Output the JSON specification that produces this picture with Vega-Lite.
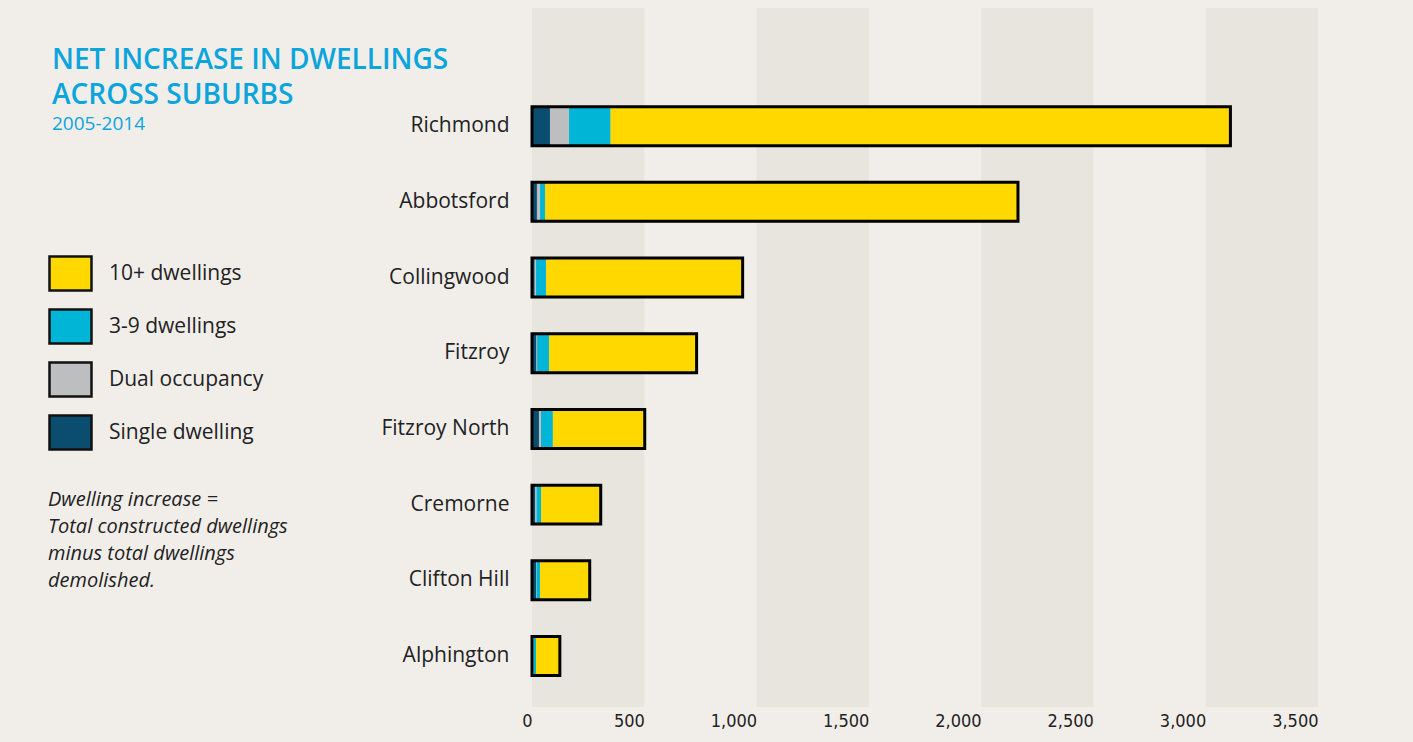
{
  "$schema": "https://vega.github.io/schema/vega-lite/v6.json",
  "width": 786,
  "height": 699,
  "autosize": {"type": "none"},
  "padding": {"left": 532, "top": 8, "right": 95, "bottom": 35},
  "background": "#f1eeea",
  "config": {"view": {"stroke": null}, "font": "Open Sans"},
  "title": {
    "text": ["NET INCREASE IN DWELLINGS", "ACROSS SUBURBS"],
    "subtitle": "2005-2014",
    "anchor": "start",
    "frame": "group",
    "dx": -480,
    "dy": 130,
    "font": "Open Sans",
    "fontSize": 28,
    "fontWeight": 600,
    "lineHeight": 35,
    "color": "#0aa5dc",
    "subtitleFont": "Open Sans",
    "subtitleFontSize": 19,
    "subtitleColor": "#0aa5dc",
    "subtitlePadding": 5
  },
  "datasets": {
    "bands": [
      {"start": 0, "end": 500},
      {"start": 1000, "end": 1500},
      {"start": 2000, "end": 2500},
      {"start": 3000, "end": 3500}
    ],
    "dwellings": [
      {"suburb": "Richmond", "type": "Single dwelling", "value": 80},
      {"suburb": "Richmond", "type": "Dual occupancy", "value": 85},
      {"suburb": "Richmond", "type": "3-9 dwellings", "value": 185},
      {"suburb": "Richmond", "type": "10+ dwellings", "value": 2760},
      {"suburb": "Abbotsford", "type": "Single dwelling", "value": 22},
      {"suburb": "Abbotsford", "type": "Dual occupancy", "value": 14},
      {"suburb": "Abbotsford", "type": "3-9 dwellings", "value": 22},
      {"suburb": "Abbotsford", "type": "10+ dwellings", "value": 2106},
      {"suburb": "Collingwood", "type": "Single dwelling", "value": 12},
      {"suburb": "Collingwood", "type": "Dual occupancy", "value": 6},
      {"suburb": "Collingwood", "type": "3-9 dwellings", "value": 45},
      {"suburb": "Collingwood", "type": "10+ dwellings", "value": 875},
      {"suburb": "Fitzroy", "type": "Single dwelling", "value": 20},
      {"suburb": "Fitzroy", "type": "Dual occupancy", "value": 3},
      {"suburb": "Fitzroy", "type": "3-9 dwellings", "value": 53},
      {"suburb": "Fitzroy", "type": "10+ dwellings", "value": 657},
      {"suburb": "Fitzroy North", "type": "Single dwelling", "value": 31},
      {"suburb": "Fitzroy North", "type": "Dual occupancy", "value": 9},
      {"suburb": "Fitzroy North", "type": "3-9 dwellings", "value": 53},
      {"suburb": "Fitzroy North", "type": "10+ dwellings", "value": 409},
      {"suburb": "Cremorne", "type": "Single dwelling", "value": 15},
      {"suburb": "Cremorne", "type": "Dual occupancy", "value": 5},
      {"suburb": "Cremorne", "type": "3-9 dwellings", "value": 20},
      {"suburb": "Cremorne", "type": "10+ dwellings", "value": 266},
      {"suburb": "Clifton Hill", "type": "Single dwelling", "value": 18},
      {"suburb": "Clifton Hill", "type": "Dual occupancy", "value": 2},
      {"suburb": "Clifton Hill", "type": "3-9 dwellings", "value": 16},
      {"suburb": "Clifton Hill", "type": "10+ dwellings", "value": 221},
      {"suburb": "Alphington", "type": "Single dwelling", "value": 5},
      {"suburb": "Alphington", "type": "Dual occupancy", "value": 2},
      {"suburb": "Alphington", "type": "3-9 dwellings", "value": 11},
      {"suburb": "Alphington", "type": "10+ dwellings", "value": 106}
    ]
  },
  "layer": [
    {
      "data": {"name": "bands"},
      "mark": {"type": "rect", "color": "#e8e4de"},
      "encoding": {
        "x": {"field": "start", "type": "quantitative"},
        "x2": {"field": "end"}
      }
    },
    {
      "data": {"name": "dwellings"},
      "transform": [
        {"calculate": "indexof(['Single dwelling','Dual occupancy','3-9 dwellings','10+ dwellings'], datum.type)", "as": "stackOrder"}
      ],
      "mark": {"type": "bar"},
      "encoding": {
        "y": {
          "field": "suburb", "type": "nominal",
          "sort": ["Richmond", "Abbotsford", "Collingwood", "Fitzroy", "Fitzroy North", "Cremorne", "Clifton Hill", "Alphington"],
          "scale": {"paddingInner": 0.485, "paddingOuter": 0.86, "align": 0.758},
          "axis": {"title": null, "domain": false, "ticks": false, "labelFontSize": 21, "labelColor": "#222222", "labelPadding": 23, "labelFont": "Open Sans"}
        },
        "x": {
          "field": "value", "type": "quantitative", "aggregate": "sum", "stack": "zero",
          "scale": {"domain": [0, 3500], "nice": false},
          "axis": {"title": null, "values": [0, 500, 1000, 1500, 2000, 2500, 3000, 3500], "format": ",d", "grid": false, "domain": false, "ticks": false, "labelAlign": "right", "labelFontSize": 18, "labelFont": "DejaVu Sans Condensed, Roboto", "labelColor": "#222222", "labelPadding": 5}
        },
        "order": {"field": "stackOrder", "type": "quantitative"},
        "color": {
          "field": "type", "type": "nominal",
          "scale": {
            "domain": ["10+ dwellings", "3-9 dwellings", "Dual occupancy", "Single dwelling"],
            "range": ["#ffd800", "#00b5d6", "#bdbec0", "#0a4d6e"]
          },
          "legend": {
            "orient": "none",
            "legendX": -484,
            "legendY": 247,
            "symbolType": "M-1,-1H1.47V1H-1Z",
            "symbolSize": 1156,
            "symbolStrokeColor": "#111111",
            "symbolStrokeWidth": 2.5,
            "symbolOpacity": 1,
            "labelFontSize": 21,
            "labelColor": "#222222",
            "labelFont": "Open Sans",
            "labelOffset": 24,
            "rowPadding": 8,
            "title": ["Dwelling increase =", "Total constructed dwellings", "minus total dwellings", "demolished."],
            "titleOrient": "bottom",
            "titleFontStyle": "italic",
            "titleFontWeight": "normal",
            "titleFontSize": 20,
            "titleFont": "Open Sans",
            "titleColor": "#222222",
            "titleLineHeight": 27,
            "titlePadding": 35,
            "titleLimit": 600
          }
        }
      }
    },
    {
      "data": {"name": "dwellings"},
      "mark": {"type": "bar", "fill": null, "fillOpacity": 0, "stroke": "#000000", "strokeWidth": 3},
      "encoding": {
        "y": {"field": "suburb", "type": "nominal", "sort": ["Richmond", "Abbotsford", "Collingwood", "Fitzroy", "Fitzroy North", "Cremorne", "Clifton Hill", "Alphington"]},
        "x": {"field": "value", "type": "quantitative", "aggregate": "sum"}
      }
    }
  ]
}
